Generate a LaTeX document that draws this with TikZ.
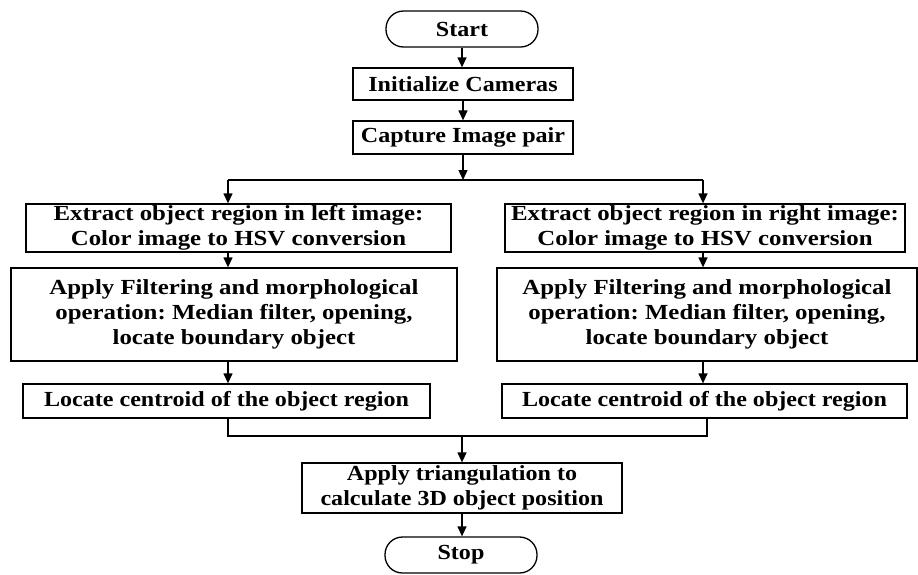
\documentclass[tikz,border=0pt]{standalone}
\usepackage{fontspec}
\setmainfont{Liberation Serif}[FakeStretch=1.12]
\newfontfamily\midfont{Liberation Serif}[FakeStretch=1.155]
\usetikzlibrary{arrows.meta}
\begin{document}
\frenchspacing
\begin{tikzpicture}[x=1pt,y=-1pt,
  box/.style={draw, line width=1.3pt, inner sep=0pt, align=center,
    font=\fontsize{21.5}{25}\selectfont\bfseries},
  midbox/.style={box, font=\midfont\fontsize{21.5}{25}\selectfont\bfseries},
  pill/.style={box, rounded corners=17.5pt},
  arr/.style={line width=1.3pt, -{Triangle[length=10pt,width=9pt]}},
  ln/.style={line width=1.3pt}]
\useasboundingbox (0,0) rectangle (918,574);
\node[pill, minimum width=152pt, minimum height=36pt] (start) at (462,29) {Start};
\node[box, minimum width=220pt, minimum height=32pt] (init) at (463,84) {Initialize Cameras};
\node[box, minimum width=220pt, minimum height=33pt] (cap) at (463,137.5) {Capture Image pair};
\node[midbox, minimum width=425pt, minimum height=48pt] (L1) at (238.5,228) {Extract object region in left image:\\Color image to HSV conversion};
\node[midbox, minimum width=446pt, minimum height=93pt] (L2) at (234,314.5) {Apply Filtering and morphological\\operation: Median filter, opening,\\locate boundary object};
\node[box, minimum width=407pt, minimum height=34pt] (LC) at (226.5,401) {Locate centroid of the object region};
\node[midbox, minimum width=400pt, minimum height=48pt] (R1) at (705,228) {Extract object region in right image:\\Color image to HSV conversion};
\node[midbox, minimum width=420pt, minimum height=93pt] (R2) at (707,314.5) {Apply Filtering and morphological\\operation: Median filter, opening,\\locate boundary object};
\node[box, minimum width=405pt, minimum height=34pt] (RC) at (704.5,401) {Locate centroid of the object region};
\node[box, minimum width=320pt, minimum height=50pt] (tri) at (462,488) {Apply triangulation to\\calculate 3D object position};
\node[pill, minimum width=152pt, minimum height=36pt] (stop) at (461,555) {Stop};
\coordinate (sp) at (463,180);
\coordinate (spL) at (228,180);
\coordinate (spR) at (703,180);
\coordinate (mL) at (228,436);
\coordinate (mR) at (707,436);
\coordinate (mC) at (462,436);
\draw[arr] (start) -- (start.south |- init.north);
\draw[arr] (init) -- (cap);
\draw[arr] (cap.south) -- (sp);
\draw[ln] (spL) -- (spR);
\draw[arr] (spL) -- (spL |- L1.north);
\draw[arr] (spR) -- (spR |- R1.north);
\draw[arr] (spL |- L1.south) -- (spL |- L2.north);
\draw[arr] (spR |- R1.south) -- (spR |- R2.north);
\draw[arr] (spL |- L2.south) -- (spL |- LC.north);
\draw[arr] (spR |- R2.south) -- (spR |- RC.north);
\draw[ln] (mL |- LC.south) -- (mL) -- (mR) -- (mR |- RC.south);
\draw[arr] (mC) -- (mC |- tri.north);
\draw[arr] (tri.south -| mC) -- (mC |- stop.north);
\end{tikzpicture}
\end{document}
